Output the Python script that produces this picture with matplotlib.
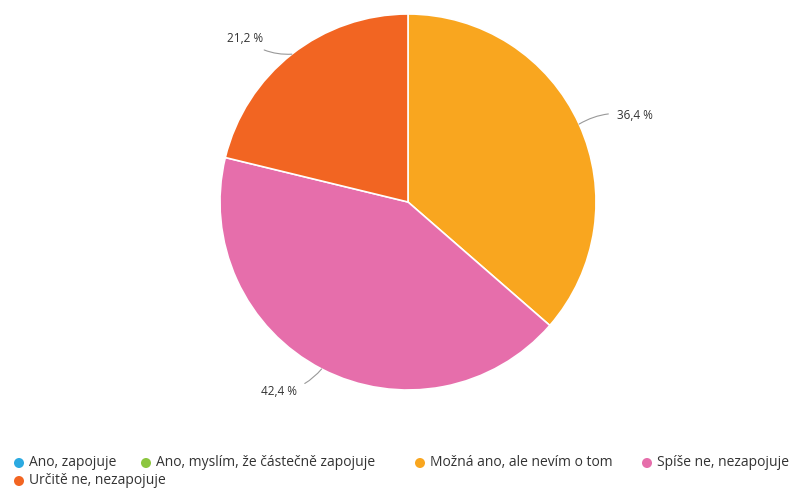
import numpy as np
import matplotlib.pyplot as plt

plt.rcParams['font.family'] = ['Open Sans', 'DejaVu Sans']

labels = ['Ano, zapojuje', 'Ano, myslím, že částečně zapojuje',
          'Možná ano, ale nevím o tom', 'Spíše ne, nezapojuje',
          'Určitě ne, nezapojuje']
values = [0.0, 0.0, 36.4, 42.4, 21.2]
colors = ['#2caae1', '#8cc63f', '#f9a61f', '#e66eab', '#f26522']

# label text anchor (data units of the pie) and alignment per slice
label_pos = {2: (1.11, 0.46, 'left'), 3: (-0.59, -1.01, 'right'), 4: (-0.77, 0.87, 'right')}

fig = plt.figure(figsize=(7.94, 4.88), dpi=100)
ax = fig.add_axes([220 / 794, 1 - 390 / 488, 376 / 794, 376 / 488])

idx = [i for i, v in enumerate(values) if v > 0]
wedges, _ = ax.pie([values[i] for i in idx], colors=[colors[i] for i in idx],
                   startangle=90, counterclock=False, radius=1,
                   wedgeprops=dict(edgecolor='white', linewidth=1.2))
ax.set_xlim(-1, 1)
ax.set_ylim(-1, 1)
ax.set_aspect('equal')
ax.axis('off')

for w, i in zip(wedges, idx):
    mid = np.radians((w.theta1 + w.theta2) / 2)
    x0, y0 = np.cos(mid), np.sin(mid)
    tx, ty, ha = label_pos[i]
    txt = f'{values[i]:.1f} %'.replace('.', ',')
    ax.annotate(txt, xy=(x0, y0), xytext=(tx, ty), ha=ha, va='center',
                fontsize=8.5, color='#333333', annotation_clip=False,
                arrowprops=dict(arrowstyle='-', color='#999999', lw=0.8,
                                shrinkA=4, shrinkB=0,
                                connectionstyle='arc3,rad=0.2'))

# legend
lg = fig.add_axes([0, 0, 1, 1])
lg.set_xlim(0, 794)
lg.set_ylim(488, 0)
lg.axis('off')
leg_xy = [(19, 463), (146, 463), (420, 463), (647, 463), (19, 481)]
for (x, y), lab, c in zip(leg_xy, labels, colors):
    lg.scatter([x], [y], s=52, color=c, edgecolors='none')
    lg.text(x + 10, y, lab, fontsize=10, color='#333333', va='center', ha='left')

fig.savefig('out.png', dpi=100)
